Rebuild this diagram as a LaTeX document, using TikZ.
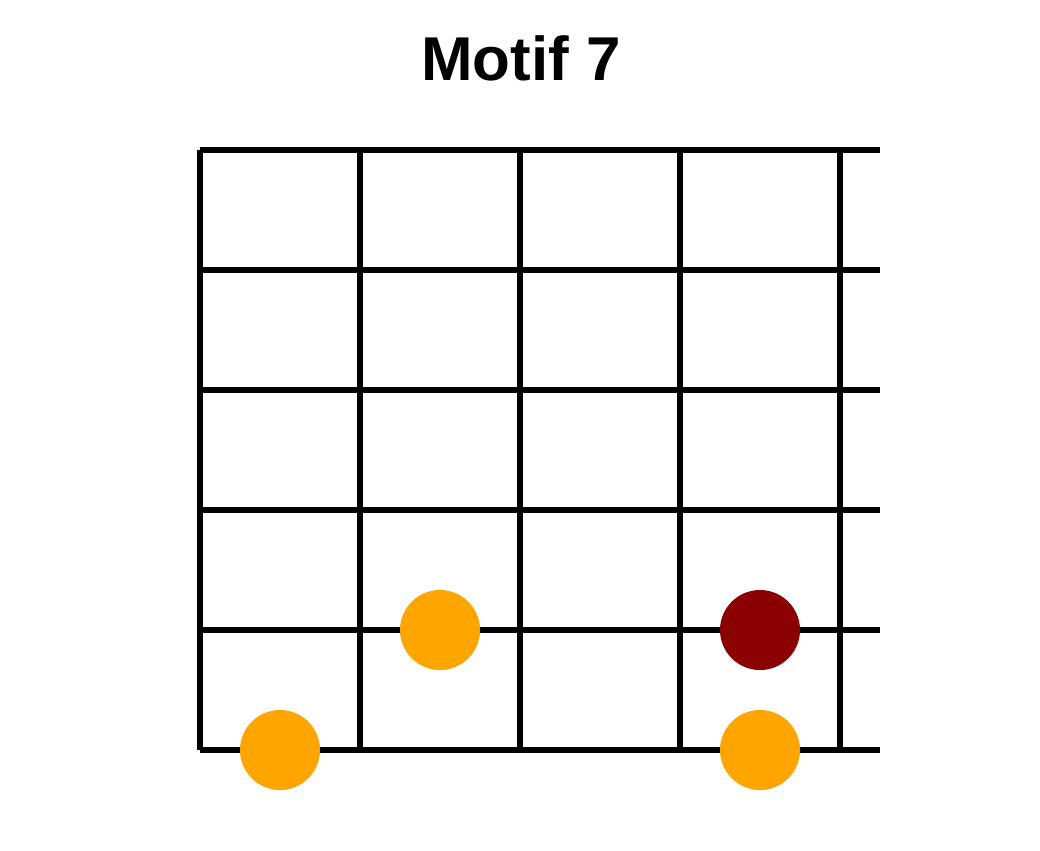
\documentclass[tikz,border=0pt]{standalone}
\usepackage{fontspec}
\setmainfont{Liberation Sans}
\usepackage{tikz}
\usetikzlibrary{positioning}
\definecolor{noteorange}{HTML}{FFA500}
\definecolor{rootred}{HTML}{8B0000}

\begin{document}
\begin{tikzpicture}[x=0.01cm,y=-0.01cm,
        fret/.style={line width=0.06cm, black},
        note/.style={circle, fill=noteorange, minimum size=0.8cm, inner sep=0pt},
        root/.style={note, fill=rootred}]
        \useasboundingbox (0,0) rectangle (1040,850);
        \node (title) [anchor=base, font=\fontsize{17.6}{21}\selectfont\bfseries] at (521,80) {Motif 7};
        % strings
        \foreach \y in {150,270,390,510,630,750}
            \draw [fret] (200,\y) -- (880,\y);
        % frets
        \foreach \x in {200,360,520,680,840}
            \draw [fret] (\x,150) -- (\x,750);
        % notes
        \node (note a) [note] at (440,630) {};
        \node (note b) [root] at (760,630) {};
        \node (note c) [note] at (280,750) {};
        \node (note d) [note] at (760,750) {};
    \end{tikzpicture}
\end{document}
